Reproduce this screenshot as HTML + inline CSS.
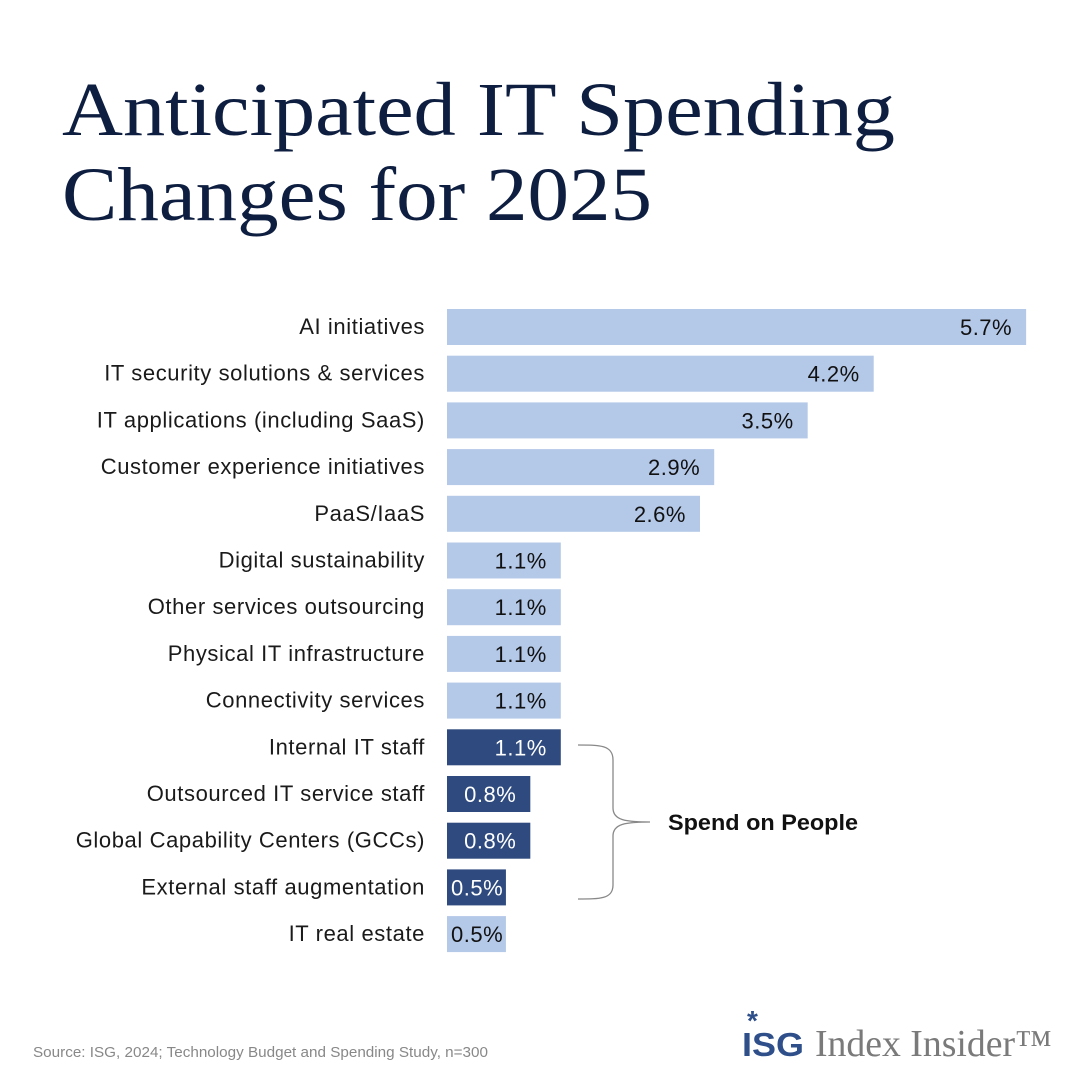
<!DOCTYPE html>
<html><head><meta charset="utf-8"><style>
body{margin:0;width:1081px;height:1081px;background:#fff;overflow:hidden;font-family:"Liberation Sans",sans-serif}
</style></head><body>
<svg width="1081" height="1081" style="position:absolute;left:0;top:0">
<text x="62" y="135" font-family="Liberation Serif, serif" font-size="76" fill="#0e1e40" textLength="833" lengthAdjust="spacingAndGlyphs">Anticipated IT Spending</text>
<text x="62" y="220" font-family="Liberation Serif, serif" font-size="76" fill="#0e1e40" textLength="590" lengthAdjust="spacingAndGlyphs">Changes for 2025</text>
<g id="bars"></g>
<path d="M578,745 C600,745 613,745 613,760 L613,808 C613,820 625,822 650,822 C625,822 613,824 613,836 L613,885 C613,899 600,899 578,899" fill="none" stroke="#888" stroke-width="1.3"/>
<text x="668" y="830" font-size="22" font-weight="bold" fill="#111" textLength="190" lengthAdjust="spacingAndGlyphs">Spend on People</text>
<text x="33" y="1057" font-size="14.5" fill="#888" textLength="455" lengthAdjust="spacingAndGlyphs">Source: ISG, 2024; Technology Budget and Spending Study, n=300</text>
<g>
<text x="747" y="1030" font-size="28" font-weight="bold" fill="#2e4f8a">*</text>
<text x="742" y="1056" font-size="33" font-weight="bold" fill="#2e4f8a" textLength="62" lengthAdjust="spacingAndGlyphs">ISG</text>
<text x="815" y="1056" font-size="38" fill="#7a7a7a" font-family="Liberation Serif, serif" textLength="237" lengthAdjust="spacingAndGlyphs">Index Insider™</text>
</g>
</svg>
<script>
const categories=["AI initiatives","IT security solutions & services","IT applications (including SaaS)","Customer experience initiatives","PaaS/IaaS","Digital sustainability","Other services outsourcing","Physical IT infrastructure","Connectivity services","Internal IT staff","Outsourced IT service staff","Global Capability Centers (GCCs)","External staff augmentation","IT real estate"];
const values=[5.7,4.2,3.55,2.63,2.49,1.12,1.12,1.12,1.12,1.12,0.82,0.82,0.58,0.58];
const valueLabels=["5.7%","4.2%","3.5%","2.9%","2.6%","1.1%","1.1%","1.1%","1.1%","1.1%","0.8%","0.8%","0.5%","0.5%"];
const isPeople=[false,false,false,false,false,false,false,false,false,true,true,true,true,false];
const x0=447,pxPer=101.6,y0=327,pitch=46.7,bh=36;
const xs=v=>x0+v*pxPer, ys=i=>y0+i*pitch;
const g=document.getElementById('bars');const NS="http://www.w3.org/2000/svg";
categories.forEach((c,i)=>{
 const y=ys(i),w=xs(values[i])-x0;
 const r=document.createElementNS(NS,'rect');
 
 
 r.setAttribute('x',x0);r.setAttribute('y',y-bh/2);r.setAttribute('width',w);r.setAttribute('height',bh);
 r.setAttribute('fill',isPeople[i]?'#2e4a7e':'#b4c8e8');g.appendChild(r);
 const l=document.createElementNS(NS,'text');
 
 
 l.setAttribute('x',425);l.setAttribute('y',y+7);l.setAttribute('text-anchor','end');l.setAttribute('font-size','22');l.setAttribute('letter-spacing','0.6');l.setAttribute('fill','#1a1a1a');l.textContent=c;g.appendChild(l);
 const t=document.createElementNS(NS,'text');
 
 
 if(w<75){t.setAttribute('x',x0+4);t.setAttribute('text-anchor','start');}
 else{t.setAttribute('x',x0+w-14);t.setAttribute('text-anchor','end');}
 t.setAttribute('y',y+8);t.setAttribute('font-size','22');t.setAttribute('letter-spacing','0.5');t.setAttribute('fill',isPeople[i]?'#fff':'#111');t.textContent=valueLabels[i];g.appendChild(t);
});
</script>
</body></html>
